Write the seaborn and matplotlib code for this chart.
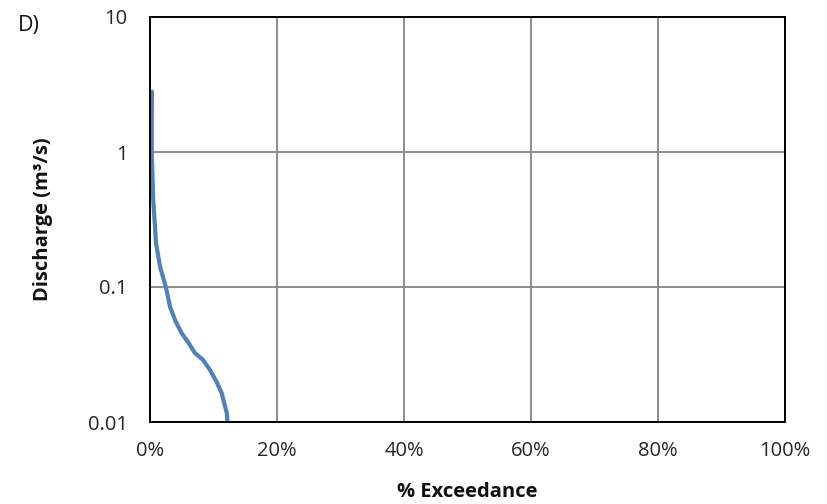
import matplotlib
matplotlib.use("Agg")
import matplotlib.pyplot as plt
import seaborn as sns
import pandas as pd
from matplotlib.ticker import FixedLocator, NullLocator

# Data
exceedance_pct = [0.3, 0.27, 0.5, 0.95, 1.6, 2.5, 3.15, 4.0, 5.0, 6.0, 7.1, 8.3, 9.45, 10.5, 11.3, 12.1, 12.2]
discharge = [2.8, 1.0, 0.45, 0.211, 0.14, 0.1, 0.0714, 0.056, 0.0454, 0.039, 0.0323, 0.029, 0.0243, 0.0198, 0.0163, 0.0116, 0.0101]
x_ticks = [0, 20, 40, 60, 80, 100]
x_tick_labels = ["0%", "20%", "40%", "60%", "80%", "100%"]
y_ticks = [0.01, 0.1, 1, 10]
y_tick_labels = ["0.01", "0.1", "1", "10"]

sns.set_theme(style="white")
plt.rcParams["font.family"] = ["Open Sans", "DejaVu Sans"]

fig = plt.figure(figsize=(8.28, 5.04), dpi=100)
ax = fig.add_axes([150/828, 1-422/504, (785-150)/828, (422-17)/504])

df = pd.DataFrame({"x": exceedance_pct, "y": discharge})
sns.lineplot(data=df, x="x", y="y", ax=ax, color="#4F81BD", linewidth=3.0, sort=False, estimator=None)

ax.set_yscale("log")
ax.set_xlim(0, 100)
ax.set_ylim(0.01, 10)
ax.xaxis.set_major_locator(FixedLocator(x_ticks))
ax.set_xticklabels(x_tick_labels)
ax.yaxis.set_major_locator(FixedLocator(y_ticks))
ax.yaxis.set_minor_locator(NullLocator())
ax.set_yticklabels(y_tick_labels)

ax.grid(True, which="major", color="#8C8C8C", linewidth=1.4)
ax.set_axisbelow(True)
for s in ax.spines.values():
    s.set_color("black")
    s.set_linewidth(1.4)
ax.tick_params(axis="both", which="major", direction="out", length=5, width=1.4,
               color="black", labelsize=14.5, labelcolor="#262626")
ax.tick_params(axis="y", pad=11)
ax.tick_params(axis="x", pad=9)

ax.set_xlabel("% Exceedance", fontsize=14.5, fontweight="bold", labelpad=15, color="#111111")
ax.set_ylabel("Discharge (m³/s)", fontsize=14.5, fontweight="bold", labelpad=25, color="#111111")
fig.text(18/828, 1-25/504, "D)", fontsize=15.5, va="center", ha="left", color="#111111")

fig.savefig("out.png", dpi=100, facecolor="white")
